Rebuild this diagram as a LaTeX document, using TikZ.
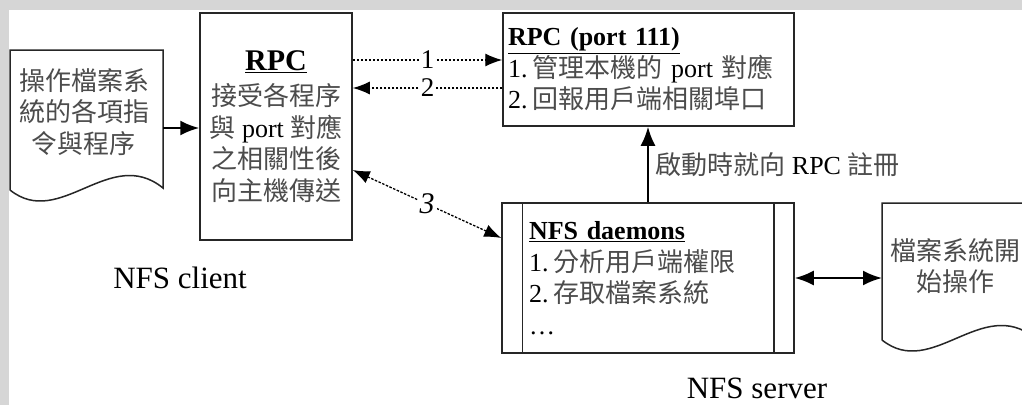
\documentclass[tikz,border=0pt]{standalone}
\usepackage{fontspec}
\setmainfont{Liberation Serif}
\newfontfamily\cjkfont{Noto Sans CJK TC}
\usetikzlibrary{arrows.meta}

\definecolor{framegray}{HTML}{D6D6D6}
\newcommand{\zh}[1]{{\cjkfont\fontsize{26}{31.5}\selectfont\color{black!70}#1}}
\newcommand{\boxtitle}[1]{{\fontsize{26}{31.5}\selectfont\underline{\textbf{#1}}}}

\tikzset{
    box/.style={draw=black!85, line width=1.5pt, fill=white},
    body/.style={font=\fontsize{26}{31.5}\selectfont},
    solidarrow/.style={line width=2.2pt, -{Latex[length=19pt,width=15pt]}},
    solidboth/.style={line width=2.2pt, {Latex[length=19pt,width=15pt]}-{Latex[length=19pt,width=15pt]}},
    dotarrow/.style={line width=1.3pt, dash pattern=on 2.5pt off 1.5pt, -{Latex[length=17pt,width=13pt]}},
    dotboth/.style={line width=1.3pt, dash pattern=on 2.5pt off 1.5pt, {Latex[length=17pt,width=13pt]}-{Latex[length=17pt,width=13pt]}},
    numlabel/.style={fill=white, inner sep=2pt, font=\fontsize{27}{27}\selectfont},
    sidelabel/.style={font=\fontsize{31}{31}\selectfont}
}

\begin{document}
\begin{tikzpicture}[x=1pt, y=-1pt]
    % Page with its grey frame
    \useasboundingbox (0,0) rectangle (1022,405);
    \clip (0,0) rectangle (1022,405);
    \fill[framegray] (0,0) rectangle (1022,405);
    \fill[white] (9,10) rectangle (1022,405);

    % Document shapes (client commands, server file system)
    \draw[box] (10,190) -- (10,50) -- (163,50) -- (163,188) .. controls (110,145) and (60,230) .. (10,190);
    \node[body, align=center] (cmdtext) at (84,112) {\zh{操作檔案系}\\\zh{統的各項指}\\\zh{令與程序}};
    \coordinate (cmd) at (163,128);

    \draw[box] (882,340) -- (882,203) -- (1035,203) -- (1035,338) .. controls (982,295) and (932,380) .. (882,340);
    \node[body, align=center] (fstext) at (955,266) {\zh{檔案系統開}\\\zh{始操作}};
    \coordinate (fsop) at (882,278);

    % RPC on the client
    \node[box, body, minimum width=152pt, minimum height=227pt, align=center] (rpcc) at (276,126.5)
        {{\fontsize{30}{32}\selectfont\underline{\textbf{RPC}}}\\[4pt]\zh{接受各程序}\\\zh{與} port \zh{對應}\\\zh{之相關性後}\\\zh{向主機傳送}};

    % RPC on the server
    \node[box, body, minimum width=291pt, minimum height=113pt, text width=281pt, inner xsep=5pt, align=left] (rpcs) at (648.5,69.5)
        {\boxtitle{RPC (port 111)}\\1.\hspace{5pt}\zh{管理本機的} port \zh{對應}\\2.\hspace{5pt}\zh{回報用戶端相關埠口}};

    % NFS daemons
    \node[box, body, minimum width=292pt, minimum height=150pt, text width=238pt, inner xsep=27pt, align=left] (nfsd) at (648,278)
        {\boxtitle{NFS daemons}\\1.\hspace{5pt}\zh{分析用戶端權限}\\2.\hspace{5pt}\zh{存取檔案系統}\\\ldots};
    \draw[box] ([xshift=21pt]nfsd.north west) -- ([xshift=21pt]nfsd.south west);
    \draw[box] ([xshift=-21pt]nfsd.north east) -- ([xshift=-21pt]nfsd.south east);

    % Connectors
    \coordinate (p1) at ([yshift=9.5pt]rpcs.west);
    \coordinate (p2) at ([yshift=-18.5pt]rpcs.west);
    \draw[solidarrow] (cmd) -- (cmd -| rpcc.west);
    \draw[dotarrow] (p1 -| rpcc.east) -- node[numlabel] {1} (p1);
    \draw[dotarrow] (p2) -- node[numlabel] {2} (p2 -| rpcc.east);
    \draw[dotboth] ([yshift=-43.5pt]rpcc.east) -- node[numlabel, font=\fontsize{30}{30}\selectfont] {\textit{3}} ([yshift=40pt]nfsd.west);
    \draw[solidarrow] (nfsd.north) -- node[body, right, xshift=3pt] {\zh{啟動時就向} RPC \zh{註冊}} (nfsd.north |- rpcs.south);
    \draw[solidboth] (nfsd.east) -- (fsop);

    % Side labels
    \node[sidelabel] (client) at (180,278) {NFS client};
    \node[sidelabel] (server) at (757,388) {NFS server};
\end{tikzpicture}
\end{document}
